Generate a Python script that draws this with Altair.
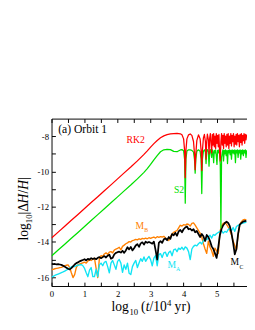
import altair as alt
import pandas as pd

# ---------------- data ----------------
RED = "#ff0000"
GREEN = "#00e000"
ORANGE = "#ff8000"
CYAN = "#10e4f4"
BLACK = "#000000"

SMOOTH_X = [0.0, 0.2, 0.4, 0.6, 0.8, 1.0, 1.2, 1.4, 1.6, 1.8, 2.0, 2.2, 2.4, 2.6, 2.8,
            2.9, 3.0, 3.1, 3.2, 3.3, 3.4, 3.5, 3.6, 3.7, 3.8, 3.9]
PRE_X = [3.95, 4.00, 4.03, 4.05, 4.07, 4.10, 4.15, 4.20, 4.25, 4.30, 4.33, 4.35, 4.37,
         4.40, 4.45, 4.50, 4.53, 4.55, 4.57, 4.60, 4.63, 4.66, 4.68, 4.70, 4.72, 4.75,
         4.77, 4.79, 4.81]
DENSE_X = [4.83, 4.85, 4.87, 4.89, 4.91, 4.93, 4.95, 4.97, 4.99, 5.01, 5.03, 5.05, 5.07,
           5.09, 5.11, 5.13, 5.15, 5.17, 5.19, 5.21, 5.23, 5.25, 5.27, 5.29, 5.31, 5.33,
           5.35, 5.37, 5.39, 5.41, 5.43, 5.45, 5.47, 5.49, 5.51, 5.53, 5.55, 5.57, 5.59,
           5.61, 5.63, 5.65, 5.67, 5.69, 5.71, 5.73, 5.75, 5.77, 5.79, 5.81, 5.83, 5.85,
           5.87, 5.89, 5.91]

RK2_SMOOTH = [-13.78, -13.44, -13.11, -12.77, -12.44, -12.10, -11.76, -11.43, -11.09, -10.76,
              -10.42, -10.08, -9.75, -9.40, -9.03, -8.83, -8.62, -8.42, -8.24, -8.09,
              -7.98, -7.91, -7.87, -7.85, -7.84, -7.86]
RK2_PRE = [-7.92, -8.15, -8.80, -10.35, -8.80, -8.15, -7.92, -7.87, -7.95, -8.30, -9.00,
           -9.90, -9.00, -8.25, -7.92, -8.15, -8.80, -9.95, -8.80, -8.10, -7.90, -8.30,
           -9.30, -8.30, -7.88, -8.20, -9.00, -8.10, -7.85]
RK2_DENSE = [-8.40, -8.95, -7.90, -8.50, -7.85, -8.60, -8.00, -8.70, -7.85, -8.40, -7.95,
             -8.60, -7.90, -8.90, -9.40, -8.30, -7.85, -8.50, -7.95, -8.70, -7.85, -8.40,
             -8.00, -8.60, -7.90, -8.50, -7.85, -8.70, -8.00, -8.40, -7.85, -8.55, -7.95,
             -8.30, -7.85, -8.60, -8.00, -8.45, -7.90, -8.50, -7.85, -8.30, -7.95, -8.60,
             -7.90, -8.35, -7.85, -8.50, -7.95, -8.25, -7.85, -8.40, -7.90, -8.20, -7.90]

S2_SMOOTH = [-14.80, -14.46, -14.13, -13.79, -13.46, -13.12, -12.78, -12.45, -12.11, -11.78,
             -11.44, -11.10, -10.77, -10.42, -10.05, -9.84, -9.60, -9.34, -9.10, -8.88,
             -8.77, -8.74, -8.76, -8.86, -8.88, -8.78]
S2_PRE = [-8.76, -8.82, -9.30, -11.80, -9.30, -8.84, -8.77, -8.78, -8.80, -8.90, -9.30,
          -10.10, -9.30, -8.85, -8.77, -8.85, -9.30, -11.25, -9.30, -8.85, -8.77, -8.90,
          -9.55, -8.85, -8.76, -8.90, -9.70, -8.85, -8.76]
S2_DENSE = [-8.95, -9.20, -8.78, -8.90, -9.50, -8.80, -8.95, -8.78, -9.10, -9.60, -8.80,
            -8.95, -8.78, -9.00, -9.60, -13.20, -9.20, -8.95, -8.78, -9.40, -8.80, -9.00,
            -8.78, -9.10, -8.82, -9.55, -8.80, -8.95, -8.78, -9.05, -8.80, -9.30, -8.78,
            -8.95, -8.80, -9.00, -8.78, -9.50, -8.80, -8.95, -8.78, -9.20, -8.80, -8.95,
            -8.78, -9.30, -8.80, -9.00, -8.78, -9.10, -8.80, -8.95, -8.78, -9.20, -8.80]

# M_C (black), M_B (orange), M_A (cyan): one value every 0.05 in log10 t, from 0 to 5.90
MC_Y = [-15.25, -15.26, -15.25, -15.27, -15.26, -15.28, -15.30, -15.35, -15.40, -15.46,
        -15.52, -15.56, -15.48, -15.38, -15.28, -15.20, -15.16, -15.10, -15.06, -15.02,
        -14.98, -15.05, -14.96, -15.00, -14.92, -14.97, -14.93, -14.98, -14.90, -14.86,
        -14.92, -14.86, -14.80, -14.88, -14.78, -14.72, -14.95, -14.90, -14.70, -14.62,
        -14.58, -14.55, -14.60, -14.50, -14.62, -14.48, -14.30, -14.42, -14.28, -14.48,
        -14.36, -14.20, -14.12, -14.28, -14.08, -14.02, -14.15, -13.98, -14.05, -14.00,
        -14.05, -14.10, -13.98, -14.45, -15.00, -14.05, -13.95, -14.05, -13.85, -13.80,
        -13.90, -13.72, -13.82, -13.55, -13.62, -13.48, -13.65, -13.40, -13.32, -13.45,
        -13.28, -13.18, -13.12, -13.28, -13.25, -13.35, -13.28, -13.45, -13.38, -13.55,
        -13.72, -13.55, -13.68, -13.95, -13.60, -13.72, -13.95, -14.25, -14.40, -14.65,
        -14.90, -14.30, -13.60, -13.25, -13.05, -12.92, -12.85, -12.92, -13.10, -13.50,
        -14.05, -14.70, -14.40, -13.55, -13.02, -12.92, -12.85, -12.82, -12.80]
MB_Y = [-15.58, -15.55, -15.52, -15.50, -15.48, -15.46, -15.44, -15.40, -15.36, -15.32,
        -15.30, -15.45, -15.75, -16.02, -15.85, -15.45, -15.30, -15.25, -15.22, -15.18,
        -15.15, -15.20, -15.08, -15.02, -15.05, -14.98, -14.92, -15.50, -16.02, -14.90,
        -14.78, -14.82, -14.68, -14.62, -14.70, -14.58, -14.55, -14.62, -14.46, -14.40,
        -14.36, -14.30, -14.45, -14.25, -14.18, -14.10, -14.05, -13.98, -14.00, -13.92,
        -13.90, -13.85, -13.88, -13.82, -13.86, -13.80, -13.82, -13.78, -13.82, -13.76,
        -13.80, -13.75, -13.72, -13.78, -13.70, -13.74, -13.70, -13.72, -13.68, -13.78,
        -13.85, -13.92, -13.70, -13.55, -13.45, -13.40, -13.35, -13.20, -13.05, -13.10,
        -13.02, -13.05, -12.98, -13.00, -13.10, -12.95, -12.92, -13.05, -13.20, -13.35,
        -13.50, -13.72, -14.10, -14.40, -14.65, -13.95, -14.30, -14.50, -14.82, -14.35,
        -14.50, -14.65, -13.40, -13.10, -12.95, -12.90, -13.00, -13.15, -13.35, -13.60,
        -13.95, -14.20, -14.45, -13.60, -13.05, -12.85, -12.75, -12.72, -12.75]
MA_Y = [-16.00, -15.95, -15.90, -15.86, -15.82, -15.78, -15.74, -15.70, -15.65, -15.60,
        -15.55, -15.48, -15.42, -15.38, -15.40, -15.35, -15.32, -15.30, -15.28, -15.35,
        -15.50, -15.75, -15.97, -15.60, -15.45, -15.97, -15.97, -15.55, -15.97, -15.30,
        -15.20, -15.35, -15.15, -15.10, -15.40, -15.75, -15.20, -15.05, -15.30, -15.55,
        -15.10, -15.00, -15.20, -15.72, -15.30, -15.55, -15.20, -15.78, -15.85, -15.40,
        -15.20, -15.05, -15.45, -15.20, -14.95, -15.10, -14.85, -15.10, -14.95, -14.82,
        -15.00, -15.35, -14.92, -14.78, -15.35, -14.72, -14.66, -14.88, -14.62, -14.58,
        -14.82, -14.60, -14.52, -14.78, -14.45, -14.40, -14.55, -14.35, -14.42, -14.30,
        -14.45, -14.28, -14.35, -14.55, -15.00, -14.40, -14.25, -14.18, -14.22, -14.10,
        -14.02, -14.12, -13.92, -13.80, -13.88, -13.72, -13.62, -13.78, -13.58, -13.62,
        -13.52, -13.46, -13.40, -13.36, -13.50, -13.40, -13.45, -13.30, -13.22, -13.36,
        -13.18, -13.40, -13.12, -13.06, -13.02, -12.96, -12.93, -12.90, -12.88]
GRID_STEP = 0.05

X_TICKS = [0, 0.5, 1, 1.5, 2, 2.5, 3, 3.5, 4, 4.5, 5, 5.5]
Y_TICKS = [-16, -15, -14, -13, -12, -11, -10, -9, -8]
X_DOMAIN = [0, 5.92]
Y_DOMAIN = [-16.5, -7]

LABEL_TEXT = ["RK2", "S2", "M", "M", "M"]
LABEL_X = [2.55, 3.86, 2.67, 3.64, 5.55]
LABEL_Y = [-8.2, -11.05, -13.1, -15.31, -15.17]
LABEL_COLOR = [RED, GREEN, ORANGE, CYAN, BLACK]
SUB_TEXT = ["B", "A", "C"]
SUB_X = [2.87, 3.83, 5.75]
SUB_Y = [-13.32, -15.52, -15.40]
SUB_COLOR = [ORANGE, CYAN, BLACK]
PANEL_TEXT = ["(a) Orbit 1"]
PANEL_X = [0.2]
PANEL_Y = [-7.62]

# ---------------- chart ----------------
W, H = 202, 173
FONT = "Liberation Serif"
XS = alt.Scale(domain=X_DOMAIN, nice=False, zero=False)
YS = alt.Scale(domain=Y_DOMAIN, nice=False, zero=False)

common_axis = dict(
    tickSize={"expr": "-4"}, tickColor="black", tickWidth=1,
    domainColor="black", domainWidth=1, grid=False, title=None,
    labelFont=FONT, labelFontSize=9, labelColor="black",
)
AX_BOTTOM = alt.Axis(orient="bottom", values=X_TICKS, labelFlush=False,
                     labelExpr="datum.value % 1 === 0 ? format(datum.value, 'd') : ''",
                     labelPadding=8, **common_axis)
AX_TOP = alt.Axis(orient="top", values=X_TICKS, labels=False, **common_axis)
AX_LEFT = alt.Axis(orient="left", values=Y_TICKS,
                   labelExpr="datum.value % 2 === 0 ? '-' + abs(datum.value) : ''",
                   labelPadding=7, **common_axis)


def line(xs, ys, color, width, xaxis=None, yaxis=None):
    df = pd.DataFrame({"x": xs, "y": ys})
    return alt.Chart(df).mark_line(color=color, strokeWidth=width, clip=True,
                                   strokeJoin="round").encode(
        x=alt.X("x:Q", scale=XS, axis=xaxis),
        y=alt.Y("y:Q", scale=YS, axis=yaxis),
    )


grid = [round(i * GRID_STEP, 2) for i in range(len(MC_Y))]
rk_x = SMOOTH_X + PRE_X + DENSE_X

layers = [
    line(grid, MB_Y, ORANGE, 1.4, xaxis=AX_BOTTOM, yaxis=AX_LEFT),
    line(grid, MA_Y, CYAN, 1.4, xaxis=AX_TOP),
    line(grid, MC_Y, BLACK, 1.8),
    line(rk_x, S2_SMOOTH + S2_PRE + S2_DENSE, GREEN, 1.3),
    line(rk_x, RK2_SMOOTH + RK2_PRE + RK2_DENSE, RED, 1.3),
]

lab_df = pd.DataFrame({"t": LABEL_TEXT, "x": LABEL_X, "y": LABEL_Y, "c": LABEL_COLOR})
layers.append(alt.Chart(lab_df).mark_text(font=FONT, fontSize=10, baseline="middle").encode(
    x=alt.X("x:Q", scale=XS, axis=None), y=alt.Y("y:Q", scale=YS, axis=None),
    text="t:N", color=alt.Color("c:N", scale=None)))
sub_df = pd.DataFrame({"t": SUB_TEXT, "x": SUB_X, "y": SUB_Y, "c": SUB_COLOR})
layers.append(alt.Chart(sub_df).mark_text(font=FONT, fontSize=6, baseline="middle").encode(
    x=alt.X("x:Q", scale=XS, axis=None), y=alt.Y("y:Q", scale=YS, axis=None),
    text="t:N", color=alt.Color("c:N", scale=None)))
pan_df = pd.DataFrame({"t": PANEL_TEXT, "x": PANEL_X, "y": PANEL_Y})
layers.append(alt.Chart(pan_df).mark_text(font=FONT, fontSize=12, baseline="middle",
                                          align="left", color="black").encode(
    x=alt.X("x:Q", scale=XS, axis=None), y=alt.Y("y:Q", scale=YS, axis=None), text="t:N"))

# axis titles built from pieces (regular / italic / sub- and superscripts)
ONE = alt.Data(values=[{"k": 1}])


def piece(txt, px, py, size=14, italic=False, angle=0):
    kw = dict(text=txt, font=FONT, fontSize=size, align="left", baseline="alphabetic",
              color="black")
    if italic:
        kw["fontStyle"] = "italic"
    if angle:
        kw["angle"] = angle
    return alt.Chart(ONE).mark_text(**kw).encode(x=alt.value(px), y=alt.value(py))


XB = 199  # baseline of x title (pixels from the top of the plot)
layers += [
    piece("log", 62, XB),
    piece("10", 80.5, XB + 4, size=9),
    piece("(", 92.5, XB),
    piece("t", 97.4, XB, italic=True),
    piece("/10", 101.3, XB),
    piece("4", 119.3, XB - 5, size=9),
    piece("yr)", 127.2, XB),
]
YB = -24.5  # baseline of y title (pixels from the left of the plot)
layers += [
    piece("log", YB, 126, angle=270),
    piece("10", YB + 4, 108.1, size=9, angle=270),
    piece("|\u0394", YB, 99.1, angle=270),
    piece("H", YB, 87.7, italic=True, angle=270),
    piece("/", YB, 77.4, angle=270),
    piece("H", YB, 73.5, italic=True, angle=270),
    piece("|", YB, 63.4, angle=270),
]

chart = alt.layer(*layers).resolve_axis(x="independent", y="independent").properties(
    width=W, height=H,
    padding={"left": 45, "top": 109, "right": 0, "bottom": 36},
    autosize=alt.AutoSizeParams(type="none"),
).configure_view(stroke=None)

chart.save("out.html", embed_options={"renderer": "svg", "actions": False})
